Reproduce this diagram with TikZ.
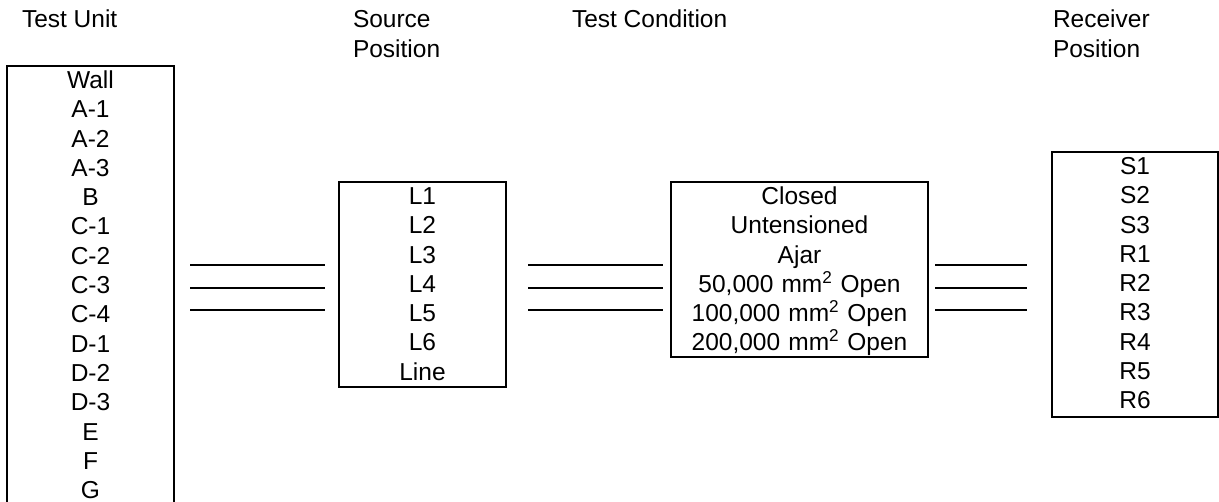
\documentclass[tikz,border=0pt]{standalone}
\usepackage{fontspec}
\setmainfont{Liberation Sans}
\begin{document}
\begin{tikzpicture}[x=1pt,y=-1pt,
  every node/.style={font=\fontsize{24.5pt}{29.3pt}\selectfont, inner sep=0pt, outer sep=0pt},
  listbox/.style={draw, line width=2pt, align=center, anchor=north west, text width=#1},
  heading/.style={align=left, anchor=north west},
  link/.style={line width=2pt}]
\useasboundingbox[fill=white] (0,0) rectangle (1219,502);

% column headings
\node[heading] (hunit) at (22,8) {\rule{0pt}{20pt}Test Unit};
\node[heading] (hsrc) at (353,8) {\rule{0pt}{20pt}Source\\Position};
\node[heading] (hcond) at (572,8) {\rule{0pt}{20pt}Test Condition};
\node[heading] (hrecv) at (1053,8) {\rule{0pt}{20pt}Receiver\\Position};

% option lists
\node[listbox=167pt] (unit) at (7,66) {\rule{0pt}{22.5pt}Wall\\A-1\\A-2\\A-3\\B\\C-1\\C-2\\C-3\\C-4\\D-1\\D-2\\D-3\\E\\F\\G\rule[-8.5pt]{0pt}{8.5pt}};
\node[listbox=167pt] (source) at (339,182) {\rule{0pt}{22.5pt}L1\\L2\\L3\\L4\\L5\\L6\\Line\rule[-7pt]{0pt}{7pt}};
\node[listbox=257pt] (cond) at (671,182) {\rule{0pt}{22.5pt}Closed\\Untensioned\\Ajar\\50,000 mm\textsuperscript{2} Open\\100,000 mm\textsuperscript{2} Open\\200,000 mm\textsuperscript{2} Open\rule[-6pt]{0pt}{6pt}};
\node[listbox=166pt] (recv) at (1052,152) {\rule{0pt}{22.5pt}S1\\S2\\S3\\R1\\R2\\R3\\R4\\R5\\R6\rule[-8pt]{0pt}{8pt}};

% triple links between the lists
\coordinate (w1) at (0,265);
\coordinate (w2) at (0,288);
\coordinate (w3) at (0,310);
\foreach \w in {w1,w2,w3} {
  \draw[link, shorten <=16pt, shorten >=14pt] (unit.east |- \w) -- (source.west |- \w);
  \draw[link, shorten <=22pt, shorten >=8pt] (source.east |- \w) -- (cond.west |- \w);
  \draw[link, shorten <=7pt, shorten >=25pt] (cond.east |- \w) -- (recv.west |- \w);
}
\end{tikzpicture}
\end{document}
